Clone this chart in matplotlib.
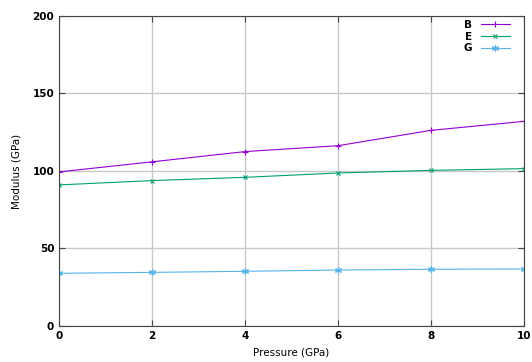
import matplotlib
matplotlib.use("Agg")
import matplotlib.pyplot as plt

# Data
pressure = [0, 2, 4, 6, 8, 10]
bulk_B = [99.4, 105.9, 112.5, 116.3, 126.2, 132.0]
young_E = [91.0, 93.8, 95.9, 98.7, 100.4, 101.5]
shear_G = [34.0, 34.6, 35.3, 36.1, 36.6, 36.8]

plt.rcParams['font.family'] = 'DejaVu Sans'
plt.rcParams['font.size'] = 7.5

fig = plt.figure(figsize=(5.32, 3.62), dpi=100)
ax = fig.add_axes([0.111, 0.0994, 0.874, 0.8566])

ax.plot(pressure, bulk_B, color='#9400d3', marker='+', ms=5, mew=0.8, lw=0.8, label='B')
ax.plot(pressure, young_E, color='#009e73', marker='x', ms=3.5, mew=0.8, lw=0.8, label='E')
ax.plot(pressure, shear_G, color='#56b4e9', marker=(6, 2, 0), ms=5, mew=0.8, lw=0.8, label='G')

ax.set_xlim(0, 10)
ax.set_ylim(0, 200)
ax.set_xticks([0, 2, 4, 6, 8, 10])
ax.set_yticks([0, 50, 100, 150, 200])
ax.grid(True, color='#c8c8c8', lw=1)
ax.set_axisbelow(True)
ax.tick_params(direction='in', top=True, right=True, length=4, color='#444444')
for lbl in ax.get_xticklabels() + ax.get_yticklabels():
    lbl.set_fontweight('bold')
for s in ax.spines.values():
    s.set_color('#444444')

ax.set_xlabel('Pressure (GPa)', fontsize=7.5, labelpad=5)
ax.set_ylabel('Modulus (GPa)', fontsize=7.5, labelpad=8)

leg = ax.legend(loc='upper right', bbox_to_anchor=(0.985, 1.01), markerfirst=False,
                frameon=False, handlelength=2.8, labelspacing=0.15, borderaxespad=0.3,
                prop={'weight': 'bold', 'size': 7.5})

plt.savefig('out.png', dpi=100)
